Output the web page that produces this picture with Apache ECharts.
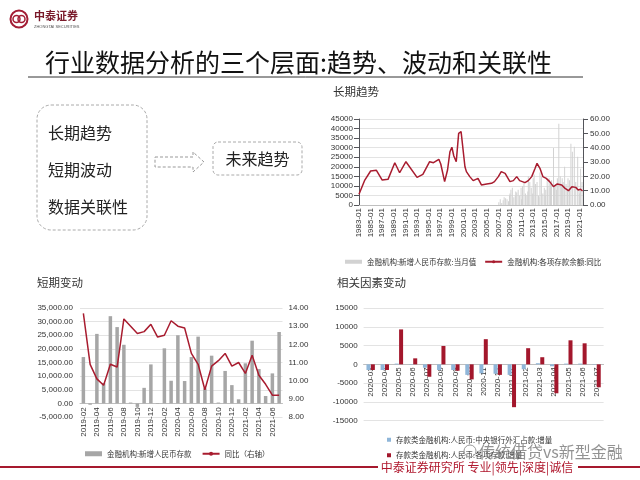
<!DOCTYPE html>
<html>
<head>
<meta charset="utf-8">
<script src="https://cdn.jsdelivr.net/npm/echarts@6/dist/echarts.min.js"></script>
<style>
  html, body { margin: 0; padding: 0; background: #fff; }
  #main { width: 640px; height: 480px; }
</style>
</head>
<body>
<div id="main"></div>
<script>
// long-term chart: monthly new deposits (left) and YoY growth (right)
const ltBarDates = ['2007-02','2007-05','2007-08','2007-11','2008-01','2008-04','2008-07','2008-10','2008-12',
  '2009-01','2009-03','2009-06','2009-09','2009-12','2010-01','2010-03','2010-06','2010-09','2010-12',
  '2011-01','2011-03','2011-06','2011-09','2011-12','2012-02','2012-03','2012-06','2012-09','2012-12',
  '2013-01','2013-03','2013-06','2013-09','2013-12','2014-01','2014-03','2014-06','2014-09','2014-12',
  '2015-02','2015-03','2015-06','2015-07','2015-10','2015-12','2016-01','2016-03','2016-07','2016-09','2016-12',
  '2017-01','2017-03','2017-06','2017-09','2017-12','2018-01','2018-03','2018-06','2018-09','2018-12',
  '2019-01','2019-04','2019-07','2019-10','2020-02','2020-05','2020-09','2020-12','2021-01','2021-03','2021-06'];
const ltBarValues = [1500,3000,1000,2500,4000,3500,3000,2000,5000,
  6000,8000,9000,4000,5000,7000,6500,8000,5000,9000,
  3000,10000,12000,6000,5000,7000,15000,12000,9000,6000,
  14000,16000,11000,12000,5000,4000,17000,15000,6000,9000,
  5000,8000,13000,10000,14000,9000,11000,13000,29800,10000,11000,
  8000,14000,42500,15000,10000,14000,12000,20000,11000,8000,
  14000,13000,32000,27900,30500,12000,25300,8000,6000,19000,12000];
const ltLineDates = ['1983-01','1984-01','1985-01','1986-01','1987-01','1988-01','1989-03','1990-01','1991-02',
  '1993-01','1994-01','1995-03','1995-11','1996-10','1997-02','1997-10','1998-04','1998-09','1999-01','1999-05',
  '1999-10','2000-03','2000-08','2000-12','2001-04','2001-07','2002-02','2002-09','2003-01','2003-07','2004-02',
  '2005-01','2005-11','2006-05','2007-01','2007-07','2008-03','2009-01','2009-08','2010-03','2010-09','2011-08',
  '2012-03','2012-10','2013-05','2013-09','2014-03','2014-09','2015-04','2015-11','2016-07','2017-03','2017-12',
  '2018-07','2019-02','2019-09','2020-05','2020-10','2021-03','2021-07'];
const ltLineValues = [7.5,17.4,23.7,24.2,17.4,17.9,29.5,22.5,30.2,
  19.3,21.4,30.2,29.5,31.9,28.6,16.3,24.4,37.2,40.3,34.2,
  30.2,50.0,51.2,50.0,26.7,23.3,19.8,17.0,17.9,18.6,14.0,
  14.7,15.1,16.3,19.8,23.3,22.1,16.3,17.0,19.8,17.0,15.6,
  17.0,19.8,25.6,29.1,25.6,19.8,18.6,16.3,12.8,14.7,14.0,
  11.6,10.0,12.8,12.3,10.5,11.0,9.8];

// short-term chart
const stMonths = ['2019-02','2019-03','2019-04','2019-05','2019-06','2019-07','2019-08','2019-09','2019-10','2019-11','2019-12',
  '2020-01','2020-02','2020-03','2020-04','2020-05','2020-06','2020-07','2020-08','2020-09','2020-10','2020-11','2020-12',
  '2021-01','2021-02','2021-03','2021-04','2021-05','2021-06','2021-07'];
const stDeposits = [17000,-500,25500,7500,32000,28000,21500,300,-1300,5700,14300,
  -200,20200,8300,25000,8200,17000,24500,5500,17500,300,11900,6700,
  1500,14700,23000,12600,2700,11000,26200];
const stYoY = [13.7,10.9,10.1,9.75,10.9,10.75,13.4,13.0,12.6,12.7,13.1,
  12.4,12.5,13.3,13.0,12.9,11.5,10.9,9.5,10.8,11.1,11.5,10.8,
  11.0,10.4,11.4,10.3,9.8,9.2,9.2];

// related factors chart
const rfMonths = ['2020-03','2020-04','2020-05','2020-06','2020-07','2020-08','2020-09','2020-10','2020-11','2020-12',
  '2021-01','2021-02','2021-03','2021-04','2021-05','2021-06','2021-07'];
const rfForex = [-1500,-1500,200,100,-900,-1500,-1500,-2800,-2400,-2500,-2800,-1300,300,-500,200,200,100];
const rfDeposit = [-1500,-1500,9300,1600,-3300,4900,-1700,-4000,6700,-2800,-11400,4300,1900,-7700,6400,5600,-6100];

const CJK = '"Noto Sans CJK SC", sans-serif';
const NUM = '"Liberation Sans", Arial, sans-serif';
const RED = '#a81c2f';

const monthIndex = s => (parseInt(s.slice(0, 4)) - 1983) * 12 + parseInt(s.slice(5, 7)) - 1;
const pairs = (dates, vals) => dates.map((d, i) => [monthIndex(d), vals[i]]);

const lbl = { fontSize: 8, color: '#333', fontFamily: NUM };
const grey = { lineStyle: { color: '#bfbfbf' } };
const greyOff = { onZero: false, lineStyle: { color: '#bfbfbf' } };
const split = { show: true, lineStyle: { color: '#e3e3e3' } };
const plain = v => String(v);

const chart = echarts.init(document.getElementById('main'));
const option = {
  animation: false,
  backgroundColor: '#fff',
  grid: [
    { left: 359, top: 119, width: 224, height: 86 },
    { left: 80, top: 308, width: 202.5, height: 109 },
    { left: 363.6, top: 308, width: 240, height: 112.7 }
  ],
  xAxis: [
    { type: 'value', gridIndex: 0, min: 0, max: 463, interval: 24, axisLine: grey, axisTick: { show: false },
      splitLine: { show: false },
      axisLabel: Object.assign({}, lbl, { rotate: 90, margin: 3, showMaxLabel: false,
        formatter: v => v % 24 === 0 ? (1983 + v / 12) + '-01' : '' }) },
    // category axes sit on the zero line, labels included
    { type: 'category', gridIndex: 1, data: stMonths, axisLine: greyOff, axisTick: { show: false }, offset: -13.6,
      axisLabel: Object.assign({}, lbl, { rotate: 90, margin: 4, interval: 1 }) },
    { type: 'category', gridIndex: 2, data: rfMonths, axisLine: greyOff, axisTick: { show: false }, offset: -56.35,
      axisLabel: Object.assign({}, lbl, { rotate: 90, margin: 3, interval: 0 }) }
  ],
  yAxis: [
    { type: 'value', gridIndex: 0, min: 0, max: 45000, interval: 5000, splitLine: split,
      axisLabel: Object.assign({}, lbl, { margin: 6, formatter: plain }) },
    { type: 'value', gridIndex: 0, min: 0, max: 60, interval: 10, splitLine: { show: false },
      axisLabel: Object.assign({}, lbl, { margin: 7, formatter: v => v.toFixed(2) }) },
    { type: 'value', gridIndex: 1, min: -5000, max: 35000, interval: 5000, splitLine: split,
      axisLabel: Object.assign({}, lbl, { margin: 7,
        formatter: v => v.toLocaleString('en-US', { minimumFractionDigits: 2, maximumFractionDigits: 2 }) }) },
    { type: 'value', gridIndex: 1, min: 8, max: 14, interval: 1, splitLine: { show: false },
      axisLabel: Object.assign({}, lbl, { margin: 6, formatter: v => v.toFixed(2) }) },
    { type: 'value', gridIndex: 2, min: -15000, max: 15000, interval: 5000, splitLine: split,
      axisLabel: Object.assign({}, lbl, { margin: 6, formatter: plain }) }
  ],
  legend: [
    { data: [{ name: '金融机构:新增人民币存款:当月值', icon: 'rect' }, '金融机构:各项存款余额:同比'],
      left: 340, top: 253, itemWidth: 17, itemHeight: 4, itemGap: 8,
      textStyle: { fontSize: 7.5, color: '#333', fontFamily: CJK } },
    { data: [{ name: '金融机构:新增人民币存款', icon: 'rect' }, '同比（右轴）'],
      left: 80, top: 445, itemWidth: 17, itemHeight: 5, itemGap: 10,
      textStyle: { fontSize: 7.5, color: '#333', fontFamily: CJK } },
    { data: ['存款类金融机构:人民币:中央银行外汇占款:增量', '存款类金融机构:人民币:各项存款:增量'],
      orient: 'vertical', left: 382, top: 431, icon: 'rect', itemWidth: 4, itemHeight: 4, itemGap: 8,
      textStyle: { fontSize: 7.5, color: '#333', fontFamily: CJK } }
  ],
  series: [
    { name: '金融机构:新增人民币存款:当月值', type: 'bar', xAxisIndex: 0, yAxisIndex: 0, barWidth: 1,
      itemStyle: { color: '#d2d2d2' }, data: pairs(ltBarDates, ltBarValues) },
    { name: '金融机构:各项存款余额:同比', type: 'line', xAxisIndex: 0, yAxisIndex: 1, symbol: 'none',
      lineStyle: { color: RED, width: 1.5 }, itemStyle: { color: RED }, data: pairs(ltLineDates, ltLineValues) },
    { name: '金融机构:新增人民币存款', type: 'bar', xAxisIndex: 1, yAxisIndex: 2, barWidth: 3.5,
      itemStyle: { color: '#a6a6a6' }, data: stDeposits },
    { name: '同比（右轴）', type: 'line', xAxisIndex: 1, yAxisIndex: 3, symbol: 'none',
      lineStyle: { color: RED, width: 1.5 }, itemStyle: { color: RED }, data: stYoY },
    { name: '存款类金融机构:人民币:中央银行外汇占款:增量', type: 'bar', xAxisIndex: 2, yAxisIndex: 4,
      barWidth: 4, barGap: '10%', itemStyle: { color: '#8fb6d9' }, data: rfForex },
    { name: '存款类金融机构:人民币:各项存款:增量', type: 'bar', xAxisIndex: 2, yAxisIndex: 4,
      barWidth: 4, barGap: '10%', itemStyle: { color: '#a3172c' }, data: rfDeposit }
  ],
  graphic: [
    // logo
    { type: 'circle', shape: { cx: 19, cy: 19, r: 8.5 }, style: { fill: 'none', stroke: '#a31d35', lineWidth: 2 } },
    { type: 'circle', shape: { cx: 16.5, cy: 19, r: 3.5 }, style: { fill: 'none', stroke: '#a31d35', lineWidth: 1.5 } },
    { type: 'circle', shape: { cx: 21.5, cy: 19, r: 3.5 }, style: { fill: 'none', stroke: '#a31d35', lineWidth: 1.5 } },
    { type: 'text', x: 34, y: 16, style: { text: '中泰证券', fontSize: 11, fontWeight: 'bold', fill: '#7a1a2a',
      fontFamily: CJK, textVerticalAlign: 'middle' } },
    { type: 'text', x: 34, y: 27, style: { text: 'ZHONGTAI SECURITIES', fontSize: 4, fill: '#555',
      fontFamily: NUM, textVerticalAlign: 'middle' } },
    // headline
    { type: 'text', x: 45, y: 62, style: { text: '行业数据分析的三个层面:趋势、波动和关联性', fontSize: 25,
      fill: '#111', fontFamily: CJK, textVerticalAlign: 'middle' } },
    { type: 'line', shape: { x1: 28, y1: 77, x2: 583, y2: 77 }, style: { stroke: '#333', lineWidth: 1 } },
    // concept boxes
    { type: 'rect', shape: { x: 37, y: 105, width: 110, height: 125, r: 14 },
      style: { fill: 'none', stroke: '#aaa', lineWidth: 1, lineDash: [3, 2] } },
    { type: 'text', x: 48, y: 133, style: { text: '长期趋势', fontSize: 16, fill: '#222', fontFamily: CJK, textVerticalAlign: 'middle' } },
    { type: 'text', x: 48, y: 170, style: { text: '短期波动', fontSize: 16, fill: '#222', fontFamily: CJK, textVerticalAlign: 'middle' } },
    { type: 'text', x: 48, y: 207, style: { text: '数据关联性', fontSize: 16, fill: '#222', fontFamily: CJK, textVerticalAlign: 'middle' } },
    { type: 'polygon', shape: { points: [[155, 157], [193, 157], [193, 152], [204, 162], [193, 172], [193, 167], [155, 167]] },
      style: { fill: 'none', stroke: '#999', lineWidth: 1, lineDash: [3, 2] } },
    { type: 'rect', shape: { x: 213, y: 142, width: 89, height: 33, r: 5 },
      style: { fill: 'none', stroke: '#aaa', lineWidth: 1, lineDash: [3, 2] } },
    { type: 'text', x: 257.5, y: 159, style: { text: '未来趋势', fontSize: 16, fill: '#222', fontFamily: CJK,
      textAlign: 'center', textVerticalAlign: 'middle' } },
    // chart titles
    { type: 'text', x: 333, y: 92, style: { text: '长期趋势', fontSize: 11.5, fill: '#333', fontFamily: CJK, textVerticalAlign: 'middle' } },
    { type: 'text', x: 37, y: 283, style: { text: '短期变动', fontSize: 11.5, fill: '#333', fontFamily: CJK, textVerticalAlign: 'middle' } },
    { type: 'text', x: 337, y: 283, style: { text: '相关因素变动', fontSize: 11.5, fill: '#333', fontFamily: CJK, textVerticalAlign: 'middle' } },
    // footer
    { type: 'line', shape: { x1: 0, y1: 467, x2: 378, y2: 467 }, style: { stroke: '#a6192e', lineWidth: 2 } },
    { type: 'line', shape: { x1: 578, y1: 467, x2: 640, y2: 467 }, style: { stroke: '#a6192e', lineWidth: 2 } },
    { type: 'text', x: 477, y: 467, style: { text: '中泰证券研究所 专业|领先|深度|诚信', fontSize: 12, fill: '#b0182e',
      fontFamily: CJK, textAlign: 'center', textVerticalAlign: 'middle' } },
    // watermark
    { type: 'circle', shape: { cx: 470, cy: 451, r: 6 }, z: 100, style: { fill: 'none', stroke: '#999', lineWidth: 1 } },
    { type: 'text', x: 479, y: 452, z: 100, style: { text: '传统借贷vs新型金融', fontSize: 16, fill: 'rgba(110,110,110,0.75)',
      fontFamily: CJK, textVerticalAlign: 'middle' } }
  ]
};
chart.setOption(option);
</script>
</body>
</html>
